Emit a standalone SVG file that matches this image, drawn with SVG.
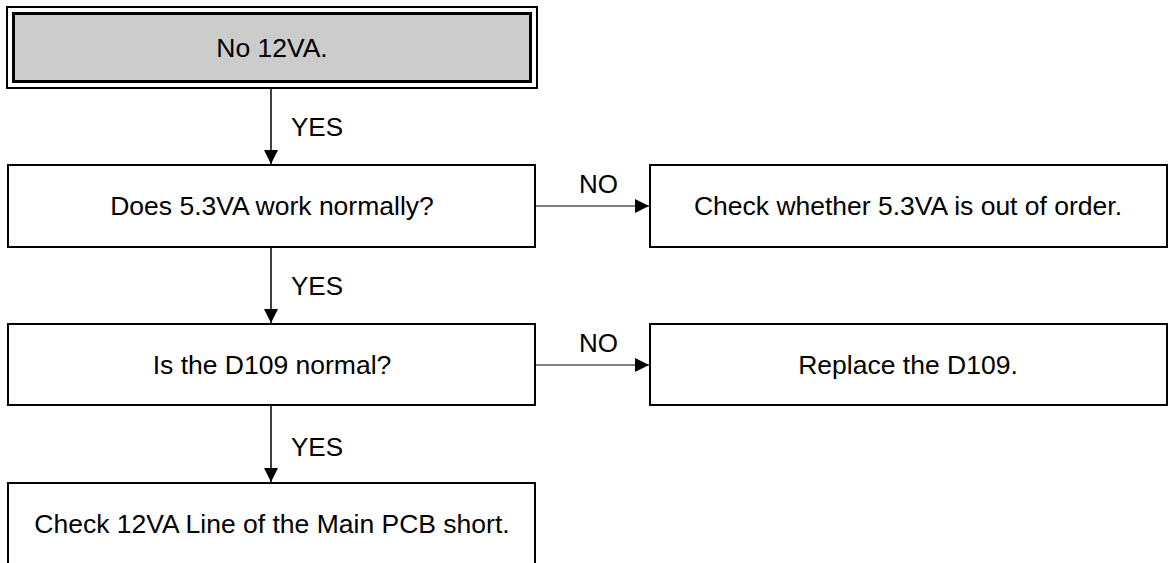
<svg xmlns="http://www.w3.org/2000/svg" width="1171" height="563" viewBox="0 0 1171 563">
<defs>
<style>
.box{fill:#fff;stroke:#000;stroke-width:2}
.t{font-family:"Liberation Sans",Arial,sans-serif;font-size:26.5px;fill:#000;text-anchor:middle}
.l{font-family:"Liberation Sans",Arial,sans-serif;font-size:26px;fill:#000}
.c{stroke:#000;stroke-width:1.5;fill:none}
.h{stroke:#000;stroke-width:1;fill:none}
</style>
<marker id="ah" markerWidth="14" markerHeight="14" refX="14" refY="7" orient="auto" markerUnits="userSpaceOnUse">
<path d="M0,0 L14,7 L0,14 Z" fill="#000"/>
</marker>
</defs>
<rect width="1171" height="563" fill="#fff"/>
<g id="start">
<rect x="7" y="7" width="530" height="81" fill="#fff" stroke="#000" stroke-width="2"/>
<rect x="13.5" y="13.5" width="517" height="68" fill="#cccccc" stroke="#000" stroke-width="3"/>
<text class="t" x="272" y="57">No 12VA.</text>
</g>
<g id="q1">
<rect class="box" x="8" y="165" width="527" height="82"/>
<text class="t" x="272" y="215">Does 5.3VA work normally?</text>
</g>
<g id="a1">
<rect class="box" x="650" y="165" width="517" height="82"/>
<text class="t" x="908" y="215">Check whether 5.3VA is out of order.</text>
</g>
<g id="q2">
<rect class="box" x="8" y="324" width="527" height="81"/>
<text class="t" x="272" y="374">Is the D109 normal?</text>
</g>
<g id="a2">
<rect class="box" x="650" y="324" width="517" height="81"/>
<text class="t" x="908" y="374">Replace the D109.</text>
</g>
<g id="end">
<rect class="box" x="8" y="483" width="527" height="100"/>
<text class="t" x="272" y="533">Check 12VA Line of the Main PCB short.</text>
</g>
<g id="connectors">
<line class="c" x1="271" y1="88" x2="271" y2="164" marker-end="url(#ah)"/>
<text class="l" x="291" y="136">YES</text>
<line class="c" x1="271" y1="247" x2="271" y2="323" marker-end="url(#ah)"/>
<text class="l" x="291" y="295">YES</text>
<line class="c" x1="271" y1="405" x2="271" y2="482" marker-end="url(#ah)"/>
<text class="l" x="291" y="456">YES</text>
<line class="h" x1="536" y1="206" x2="649" y2="206" marker-end="url(#ah)"/>
<text class="l" x="579" y="193">NO</text>
<line class="h" x1="536" y1="365" x2="649" y2="365" marker-end="url(#ah)"/>
<text class="l" x="579" y="352">NO</text>
</g>
</svg>
